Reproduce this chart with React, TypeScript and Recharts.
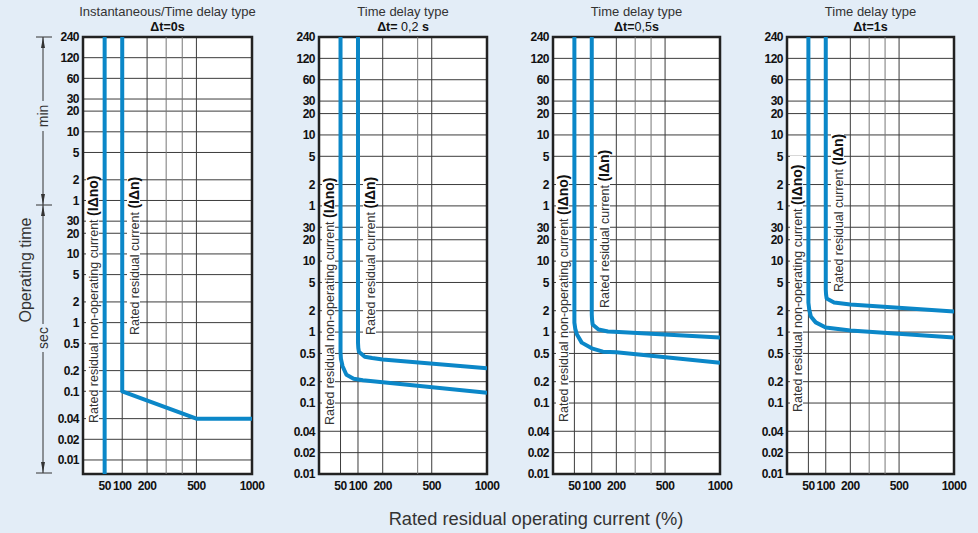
import React from 'react';
import {
  LineChart,
  Line,
  XAxis,
  YAxis,
  CartesianGrid,
  ReferenceLine,
  ReferenceArea,
} from 'recharts';

const BLUE = '#0b87c8';
const BG = '#e3edf7';
const FONT = '"Liberation Sans", Arial, Helvetica, sans-serif';

if (typeof document !== 'undefined') {
  document.body.style.margin = '0';
  document.body.style.background = BG;
}

// x = rated residual current (%), y = operating time (s)
const X_TICKS = [50, 100, 200, 500, 1000];
const X_GRID_MAIN = [50, 100, 200, 500];
const X_GRID_MINOR = [300, 400];
const X_GRID_MINOR_P2 = [400];
const Y_TICKS = [
  0.01, 0.02, 0.04, 0.1, 0.2, 0.5, 1, 2, 5, 10, 20, 30,
  60, 120, 300, 600, 1200, 1800, 3600, 7200, 14400,
];

// Δt = 0 s
const P1_NO = [
  { x: 50, y: 14400 },
  { x: 50, y: 0.00625 },
];
const P1_N = [
  { x: 100, y: 14400 },
  { x: 100, y: 0.1 },
  { x: 500, y: 0.04 },
  { x: 1000, y: 0.04 },
];

// Δt = 0,2 s
const P2_NO = [
  { x: 50, y: 14400 },
  { x: 50, y: 0.52 },
  { x: 51, y: 0.42 },
  { x: 55, y: 0.33 },
  { x: 65, y: 0.25 },
  { x: 86, y: 0.22 },
  { x: 117, y: 0.21 },
  { x: 200, y: 0.196 },
  { x: 1000, y: 0.14 },
];
const P2_N = [
  { x: 100, y: 14400 },
  { x: 100, y: 0.71 },
  { x: 101, y: 0.6 },
  { x: 103, y: 0.53 },
  { x: 124, y: 0.45 },
  { x: 153, y: 0.43 },
  { x: 200, y: 0.41 },
  { x: 1000, y: 0.31 },
];

// Δt = 0,5 s
const P3_NO = [
  { x: 50, y: 14400 },
  { x: 50, y: 1.36 },
  { x: 52, y: 1.12 },
  { x: 56, y: 0.93 },
  { x: 69, y: 0.71 },
  { x: 100, y: 0.59 },
  { x: 141, y: 0.53 },
  { x: 200, y: 0.52 },
  { x: 1000, y: 0.37 },
];
const P3_N = [
  { x: 100, y: 14400 },
  { x: 100, y: 1.77 },
  { x: 101, y: 1.5 },
  { x: 103, y: 1.28 },
  { x: 124, y: 1.09 },
  { x: 162, y: 1.02 },
  { x: 212, y: 1.0 },
  { x: 1000, y: 0.84 },
];

// Δt = 1 s
const P4_NO = [
  { x: 50, y: 14400 },
  { x: 50, y: 2.6 },
  { x: 52, y: 2.08 },
  { x: 56, y: 1.66 },
  { x: 69, y: 1.37 },
  { x: 100, y: 1.16 },
  { x: 200, y: 1.05 },
  { x: 1000, y: 0.84 },
];
const P4_N = [
  { x: 100, y: 14400 },
  { x: 100, y: 4.0 },
  { x: 101, y: 3.4 },
  { x: 103, y: 2.97 },
  { x: 130, y: 2.61 },
  { x: 200, y: 2.45 },
  { x: 1000, y: 1.95 },
];

type Part = [string, boolean];

const PANELS = [
  {
    left: 83, width: 169, yMin: 0.00625, minor: X_GRID_MINOR,
    title: 'Instantaneous/Time delay type',
    dt: [['Δt=0s', true]] as Part[],
    series: [P1_NO, P1_N], lab1: 423, lab2: 335,
  },
  {
    left: 319, width: 168, yMin: 0.01, minor: X_GRID_MINOR_P2,
    title: 'Time delay type',
    dt: [['Δt=', true], [' 0,2 ', false], ['s', true]] as Part[],
    series: [P2_NO, P2_N], lab1: 425, lab2: 335,
  },
  {
    left: 553, width: 167, yMin: 0.01, minor: X_GRID_MINOR,
    title: 'Time delay type',
    dt: [['Δt=', true], ['0,5', false], ['s', true]] as Part[],
    series: [P3_NO, P3_N], lab1: 422, lab2: 308,
  },
  {
    left: 787, width: 167, yMin: 0.01, minor: X_GRID_MINOR,
    title: 'Time delay type',
    dt: [['Δt=1s', true]] as Part[],
    series: [P4_NO, P4_N], lab1: 412, lab2: 292,
  },
];

const fmtY = (v: number) => (v >= 60 ? String(v / 60) : String(v));

const tickStyle = {
  fontSize: 12,
  fontWeight: 700,
  fill: '#111',
  letterSpacing: -0.5,
  fontFamily: FONT,
};

function Panel({ p }: { p: (typeof PANELS)[number] }) {
  const yAxisW = 40;
  const rightPad = 18;
  return (
    <div style={{ position: 'absolute', left: p.left - yAxisW, top: 0 }}>
      <LineChart
        width={yAxisW + p.width + rightPad}
        height={533}
        margin={{ top: 37, right: rightPad, bottom: 29, left: 0 }}
      >
        <CartesianGrid
          fill="#fff"
          fillOpacity={1}
          stroke="#3c3c3c"
          strokeWidth={1}
          horizontalValues={Y_TICKS}
          verticalValues={X_GRID_MAIN}
        />
        {p.minor.map((v) => (
          <ReferenceLine key={v} x={v} stroke="#777" strokeWidth={1} />
        ))}
        <XAxis
          type="number"
          dataKey="x"
          scale="sqrt"
          domain={[12, 1000]}
          allowDataOverflow
          ticks={X_TICKS}
          interval={0}
          axisLine={false}
          tickLine={false}
          tickSize={0}
          tickMargin={7}
          height={30}
          tick={tickStyle}
        />
        <YAxis
          type="number"
          dataKey="y"
          scale="log"
          domain={[p.yMin, 14400]}
          allowDataOverflow
          ticks={Y_TICKS}
          interval={0}
          tickFormatter={fmtY}
          axisLine={false}
          tickLine={false}
          tickSize={0}
          tickMargin={4}
          width={yAxisW}
          tick={tickStyle}
        />
        <ReferenceArea
          x1={12}
          x2={1000}
          y1={p.yMin}
          y2={14400}
          fill="none"
          stroke="#222"
          strokeWidth={2.5}
        />
        {p.series.map((s, i) => (
          <Line
            key={i}
            data={s}
            dataKey="y"
            type="linear"
            stroke={BLUE}
            strokeWidth={4}
            strokeLinejoin="round"
            dot={false}
            activeDot={false}
            isAnimationActive={false}
          />
        ))}
      </LineChart>
    </div>
  );
}

function RotLabel({ x, bottom, text, tag, len }: { x: number; bottom: number; text: string; tag: string; len: number }) {
  return (
    <g transform={`translate(${x},${bottom}) rotate(-90)`}>
      <rect x={-2} y={-7} width={len + 4} height={13} fill="#fff" />
      <text x={0} y={4.5} fontSize={12.5} fill="#333">
        {text}
        <tspan fontWeight={700} fontSize={14} fill="#111">{tag}</tspan>
      </text>
    </g>
  );
}

export default function App() {
  return (
    <div
      style={{
        position: 'relative',
        width: 978,
        height: 533,
        background: BG,
        fontFamily: FONT,
        overflow: 'hidden',
      }}
    >
      {PANELS.map((p, i) => (
        <Panel key={i} p={p} />
      ))}
      <svg
        width={978}
        height={533}
        style={{ position: 'absolute', left: 0, top: 0, pointerEvents: 'none' }}
        fontFamily={FONT}
      >
        {PANELS.map((p, i) => {
          const cx = p.left + p.width / 2;
          return (
            <g key={i}>
              <text x={cx} y={16} textAnchor="middle" fontSize={13} fill="#333">
                {p.title}
              </text>
              <text x={cx} y={31} textAnchor="middle" fontSize={12.5} fill="#111">
                {p.dt.map(([t, b], j) => (
                  <tspan key={j} fontWeight={b ? 700 : 400}>{t}</tspan>
                ))}
              </text>
              <RotLabel
                x={p.left + 10}
                bottom={p.lab1}
                text="Rated residual non-operating current "
                tag="(IΔno)"
                len={254}
              />
              <RotLabel
                x={p.left + 51}
                bottom={p.lab2}
                text="Rated residual current "
                tag="(IΔn)"
                len={158}
              />
            </g>
          );
        })}

        {/* operating time bracket */}
        <g stroke="#333" strokeWidth={1} fill="#333">
          <line x1={43} y1={37} x2={43} y2={101} />
          <line x1={43} y1={131} x2={43} y2={324} />
          <line x1={43} y1={352} x2={43} y2={473} />
          <line x1={36} y1={37} x2={52} y2={37} />
          <line x1={36} y1={205} x2={52} y2={205} />
          <line x1={36} y1={473} x2={52} y2={473} />
          <polygon points="43,37 41,48 45,48" stroke="none" />
          <polygon points="43,205 41,194 45,194" stroke="none" />
          <polygon points="43,205 41,216 45,216" stroke="none" />
          <polygon points="43,473 41,462 45,462" stroke="none" />
        </g>
        <text transform="translate(47.5,116) rotate(-90)" textAnchor="middle" fontSize={14} fill="#333">
          min
        </text>
        <text transform="translate(47.5,338) rotate(-90)" textAnchor="middle" fontSize={14} fill="#333">
          sec
        </text>
        <text transform="translate(31,270) rotate(-90)" textAnchor="middle" fontSize={16} fill="#333">
          Operating time
        </text>
        <text x={536} y={525} textAnchor="middle" fontSize={18.3} fill="#333">
          Rated residual operating current (%)
        </text>
      </svg>
    </div>
  );
}
